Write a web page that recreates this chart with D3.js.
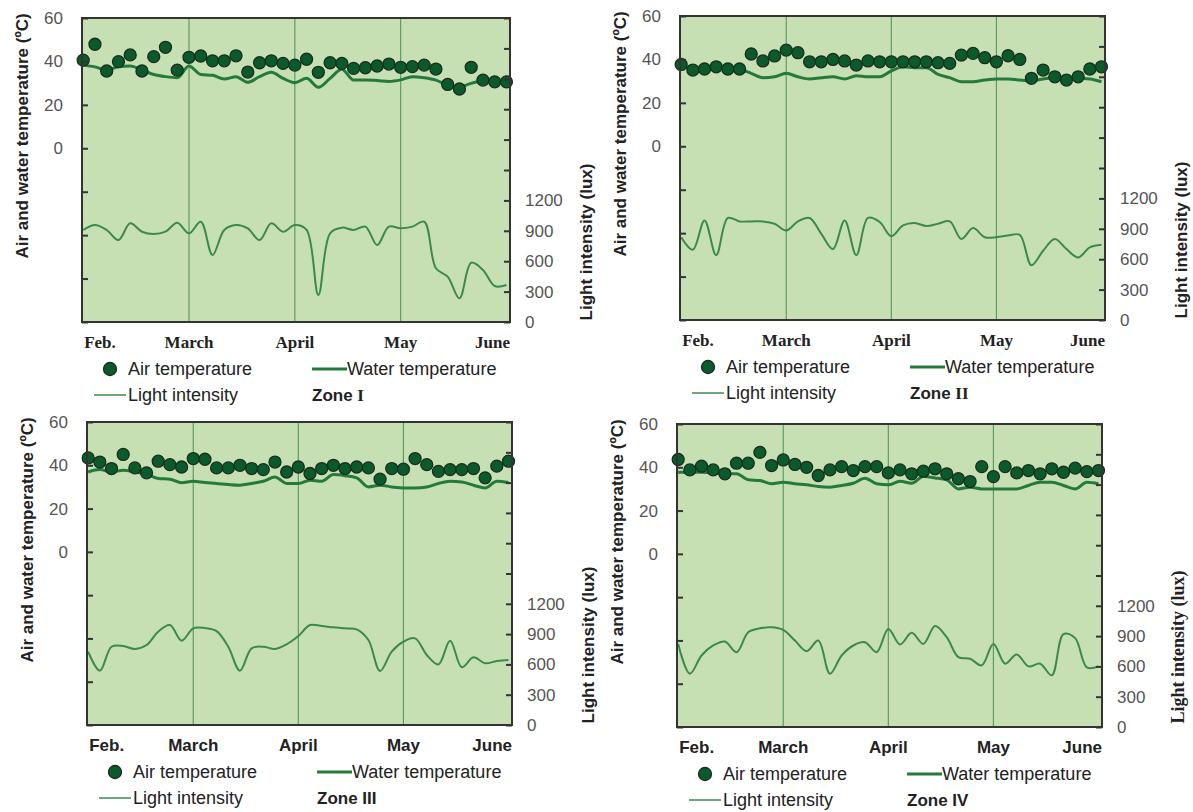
<!DOCTYPE html>
<html>
<head>
<meta charset="utf-8">
<script src="https://cdn.jsdelivr.net/npm/d3@7"></script>
<style>
body { margin: 0; background: #fff; }
</style>
</head>
<body>
<svg id="chart" width="1193" height="812"></svg>
<script>
// month labels and the sample index where each one sits
var monthLabels = ["Feb.", "March", "April", "May", "June"];
var monthIndex = [0, 9, 18, 27, 36];
var zoneNumerals = ["I", "II", "III", "IV"];
var tempTickLabels = [0, 20, 40, 60];
var lightTickLabels = [0, 300, 600, 900, 1200];

// air temperature (dots), water temperature (thick line), light intensity (thin line)
var airZone1 = [40.6, 47.9, 35.6, 39.9, 43, 35.6, 42.2, 46.5, 36, 41.9, 42.5, 40.3, 40.3, 42.6, 35.1, 39.4, 40.3, 39.1, 38.3, 41, 35, 39.4, 39.1, 36.8, 37.1, 37.9, 38.8, 37.3, 37.6, 38.3, 36.5, 29.4, 27.3, 37.3, 31.4, 30.6, 30.6];
var waterZone1 = [38.3, 37.5, 36, 37.6, 37.9, 36, 34, 33, 32.5, 37.9, 34, 33.6, 31.9, 33, 30.4, 33, 35, 32.2, 30.2, 32.2, 28.1, 32.2, 36.4, 31.4, 31.4, 31.2, 30.8, 31.5, 33, 32.5, 31.4, 29.1, 28.3, 29.9, 31.1, 30.6, 30.6];
var lightZone1 = [908, 957, 908, 809, 974, 891, 868, 891, 980, 875, 990, 661, 908, 957, 924, 809, 974, 891, 957, 908, 266, 875, 931, 908, 941, 760, 941, 924, 941, 990, 530, 447, 234, 585, 513, 355, 365];

var airZone2 = [37.7, 35.1, 35.6, 36.6, 35.6, 35.6, 42.5, 39.3, 41.6, 44.3, 43.1, 38.9, 38.9, 40, 39.3, 37.4, 39.3, 38.9, 38.9, 38.9, 38.9, 38.9, 38.5, 38.2, 42, 42.8, 40.8, 38.9, 41.7, 40, 31.3, 35.1, 32, 30.5, 32, 35.6, 36.6];
var waterZone2 = [37, 36, 36, 36.5, 36, 35.5, 33.6, 31.6, 32, 33.6, 32, 31, 31.6, 32, 31, 32.5, 32, 32, 34.7, 36.6, 36.2, 36.2, 33.1, 31.6, 29.7, 29.7, 30.5, 31, 31, 30.5, 30.2, 31, 31.6, 31.3, 31.3, 31, 29.7];
var lightZone2 = [817, 693, 983, 640, 1007, 973, 973, 973, 950, 883, 973, 1007, 850, 700, 983, 640, 1007, 967, 827, 933, 957, 927, 950, 973, 800, 907, 817, 817, 833, 840, 540, 683, 800, 700, 617, 717, 743];

var airZone3 = [43.4, 41.5, 38.5, 45, 38.8, 36.5, 41.9, 40.3, 39.2, 43.1, 42.8, 38.8, 38.8, 40, 38.5, 38, 41.5, 36.9, 39.2, 36.2, 38.5, 40, 38.5, 39.2, 38.8, 33.6, 38.5, 38.2, 43.1, 40.3, 37.2, 38, 38, 38.5, 34.2, 39.6, 41.9];
var waterZone3 = [36.9, 38, 36.9, 37.7, 36.9, 35.9, 33.9, 33.6, 31.9, 32.6, 32, 31.6, 31.1, 30.8, 31.6, 32.6, 34.6, 31.6, 31.6, 33.1, 32.6, 35.7, 35.2, 34.2, 30, 30.8, 30, 29.5, 29.5, 30, 31.6, 32.6, 32.3, 30.8, 29.5, 32.6, 32];
var lightZone3 = [726, 538, 775, 782, 752, 792, 924, 990, 835, 957, 960, 930, 775, 538, 759, 775, 752, 799, 881, 990, 980, 967, 957, 947, 841, 535, 726, 825, 858, 693, 600, 835, 571, 670, 611, 634, 644];

var airZone4 = [43.6, 38.8, 40.5, 38.8, 37, 41.9, 41.9, 46.9, 40.8, 43.4, 41.3, 40, 36.2, 38.8, 40.3, 38.5, 40.3, 40.3, 37.4, 38.8, 37, 38.2, 39.3, 37, 34.7, 33.4, 40.3, 35.7, 40.3, 37.4, 38.5, 37, 39.3, 37.7, 39.6, 38, 38.5];
var waterZone4 = [37.7, 37.7, 37.7, 37.5, 37, 37, 34.2, 33.9, 32.4, 33.1, 32.4, 31.9, 31.1, 30.8, 31.6, 32.6, 34.9, 32.4, 31.9, 33.5, 32.6, 35.7, 35.1, 34.2, 30, 30.8, 30, 30, 30, 30, 31.6, 33.1, 33.1, 31.6, 30, 33.1, 32.4];
var lightZone4 = [823, 528, 708, 807, 846, 741, 938, 977, 987, 961, 856, 751, 856, 528, 708, 807, 839, 741, 971, 817, 932, 823, 1000, 889, 692, 676, 610, 823, 627, 718, 600, 627, 512, 920, 880, 590, 600];

var airSets = [airZone1, airZone2, airZone3, airZone4];
var waterSets = [waterZone1, waterZone2, waterZone3, waterZone4];
var lightSets = [lightZone1, lightZone2, lightZone3, lightZone4];

// panel frames on the page
var panels = [
    { left: 82, top: 18, right: 510, bottom: 322, serifMonths: true, serifRight: false, serifZone: true },
    { left: 680, top: 16, right: 1105, bottom: 320, serifMonths: true, serifRight: false, serifZone: true },
    { left: 87, top: 422, right: 512, bottom: 725, serifMonths: false, serifRight: false, serifZone: false },
    { left: 677, top: 424, right: 1102, bottom: 727, serifMonths: false, serifRight: true, serifZone: false }
];

var sans = "'Liberation Sans', Arial, sans-serif";
var serif = "'Liberation Serif', 'Times New Roman', serif";
var bgColor = "#c6e0b4",
    gridColor = "#5f9c63",
    dotFill = "#0b5a2b",
    dotStroke = "#1b2e1d",
    waterColor = "#237a3b",
    lightColor = "#3b8a4c";

var svg = d3.select("#chart");

panels.forEach(function(p, k) {
    var w = p.right - p.left,
        h = p.bottom - p.top;
    var g = svg.append("g").attr("transform", "translate(" + p.left + "," + p.top + ")");

    var x = d3.scaleLinear().domain([-0.1, 36.3]).range([0, w]);
    var yT = d3.scaleLinear().domain([-80, 60]).range([h, 0]);
    var yL = d3.scaleLinear().domain([0, 3000]).range([h, 0]);

    g.append("rect").attr("width", w).attr("height", h).attr("fill", bgColor);

    // month grid lines
    g.selectAll(".mline").data(monthIndex.slice(1, 4)).enter()
        .append("line")
        .attr("x1", function(d) { return x(d); })
        .attr("x2", function(d) { return x(d); })
        .attr("y1", 0).attr("y2", h)
        .attr("stroke", gridColor).attr("stroke-width", 1.2);

    var light = lightSets[k].map(function(v, i) { return [i, v]; });
    var water = waterSets[k].map(function(v, i) { return [i, v]; });
    var air = airSets[k].map(function(v, i) { return [i, v]; });

    g.append("path").datum(light)
        .attr("fill", "none").attr("stroke", lightColor).attr("stroke-width", 2)
        .attr("d", d3.line().curve(d3.curveCatmullRom.alpha(0.5))
            .x(function(d) { return x(d[0]); })
            .y(function(d) { return yL(d[1]); }));

    g.append("path").datum(water)
        .attr("fill", "none").attr("stroke", waterColor).attr("stroke-width", 3)
        .attr("d", d3.line().curve(d3.curveMonotoneX)
            .x(function(d) { return x(d[0]); })
            .y(function(d) { return yT(d[1]); }));

    g.selectAll(".dot").data(air).enter()
        .append("circle")
        .attr("cx", function(d) { return x(d[0]); })
        .attr("cy", function(d) { return yT(d[1]); })
        .attr("r", 6)
        .attr("fill", dotFill).attr("stroke", dotStroke).attr("stroke-width", 1.3);

    // axes with inward ticks
    var left = g.append("g").call(d3.axisLeft(yT)
        .tickValues(d3.range(-80, 61, 20))
        .tickSizeInner(-6).tickSizeOuter(0).tickPadding(19)
        .tickFormat(function(d) { return tempTickLabels.indexOf(d) >= 0 ? d : ""; }));
    var right = g.append("g").attr("transform", "translate(" + w + ",0)").call(d3.axisRight(yL)
        .tickValues(d3.range(0, 3001, 300))
        .tickSizeInner(-6).tickSizeOuter(0).tickPadding(15)
        .tickFormat(function(d) { return lightTickLabels.indexOf(d) >= 0 ? d : ""; }));
    [left, right].forEach(function(a) {
        a.select(".domain").remove();
        a.selectAll(".tick line").attr("stroke", "#333").attr("stroke-width", 2);
        a.selectAll(".tick text").attr("fill", "#555").style("font-family", sans).style("font-size", "17px");
    });

    g.append("rect").attr("width", w).attr("height", h)
        .attr("fill", "none").attr("stroke", "#333").attr("stroke-width", 2);

    // month labels
    g.selectAll(".month").data(monthLabels).enter()
        .append("text")
        .attr("x", function(d, i) { return i === monthLabels.length - 1 ? w : x(monthIndex[i]) + (i === 0 ? 1 : 0); })
        .attr("y", h + 20)
        .attr("dominant-baseline", "central")
        .attr("text-anchor", function(d, i) { return i === 0 ? "start" : (i === monthLabels.length - 1 ? "end" : "middle"); })
        .style("font-family", p.serifMonths ? serif : sans)
        .style("font-weight", "bold")
        .style("font-size", "17px")
        .attr("fill", "#222")
        .text(function(d) { return d; });

    // axis titles
    g.append("text")
        .attr("transform", "translate(" + (-60) + "," + 118 + ") rotate(-90)")
        .attr("text-anchor", "middle").attr("dominant-baseline", "central")
        .style("font-family", sans).style("font-weight", "bold").style("font-size", "17px")
        .attr("fill", "#222")
        .text("Air and water temperature (ºC)");
    g.append("text")
        .attr("transform", "translate(" + (w + 76) + "," + (h - 80) + ") rotate(-90)")
        .attr("text-anchor", "middle").attr("dominant-baseline", "central")
        .style("font-family", p.serifRight ? serif : sans).style("font-weight", "bold")
        .style("font-size", p.serifRight ? "18px" : "17px")
        .attr("fill", "#222")
        .text("Light intensity (lux)");

    // legend
    var lg = g.append("g").attr("transform", "translate(0," + h + ")");
    var legendFont = function(t) {
        return t.style("font-family", sans).style("font-size", "18px")
            .attr("dominant-baseline", "central").attr("fill", "#222");
    };
    lg.append("circle").attr("cx", 28).attr("cy", 47).attr("r", 6.5)
        .attr("fill", dotFill).attr("stroke", dotStroke).attr("stroke-width", 1.3);
    legendFont(lg.append("text").attr("x", 46).attr("y", 47).text("Air temperature"));
    lg.append("line").attr("x1", 230).attr("x2", 265).attr("y1", 47).attr("y2", 47)
        .attr("stroke", waterColor).attr("stroke-width", 3);
    legendFont(lg.append("text").attr("x", 265).attr("y", 47).text("Water temperature"));
    lg.append("line").attr("x1", 12).attr("x2", 44).attr("y1", 73).attr("y2", 73)
        .attr("stroke", lightColor).attr("stroke-width", 1.5);
    legendFont(lg.append("text").attr("x", 46).attr("y", 73).text("Light intensity"));
    var zone = legendFont(lg.append("text").attr("x", 230).attr("y", 73)).style("font-weight", "bold").style("font-size", "17px");
    zone.append("tspan").text("Zone ");
    zone.append("tspan").style("font-family", p.serifZone ? serif : sans).text(zoneNumerals[k]);
});
</script>
</body>
</html>
